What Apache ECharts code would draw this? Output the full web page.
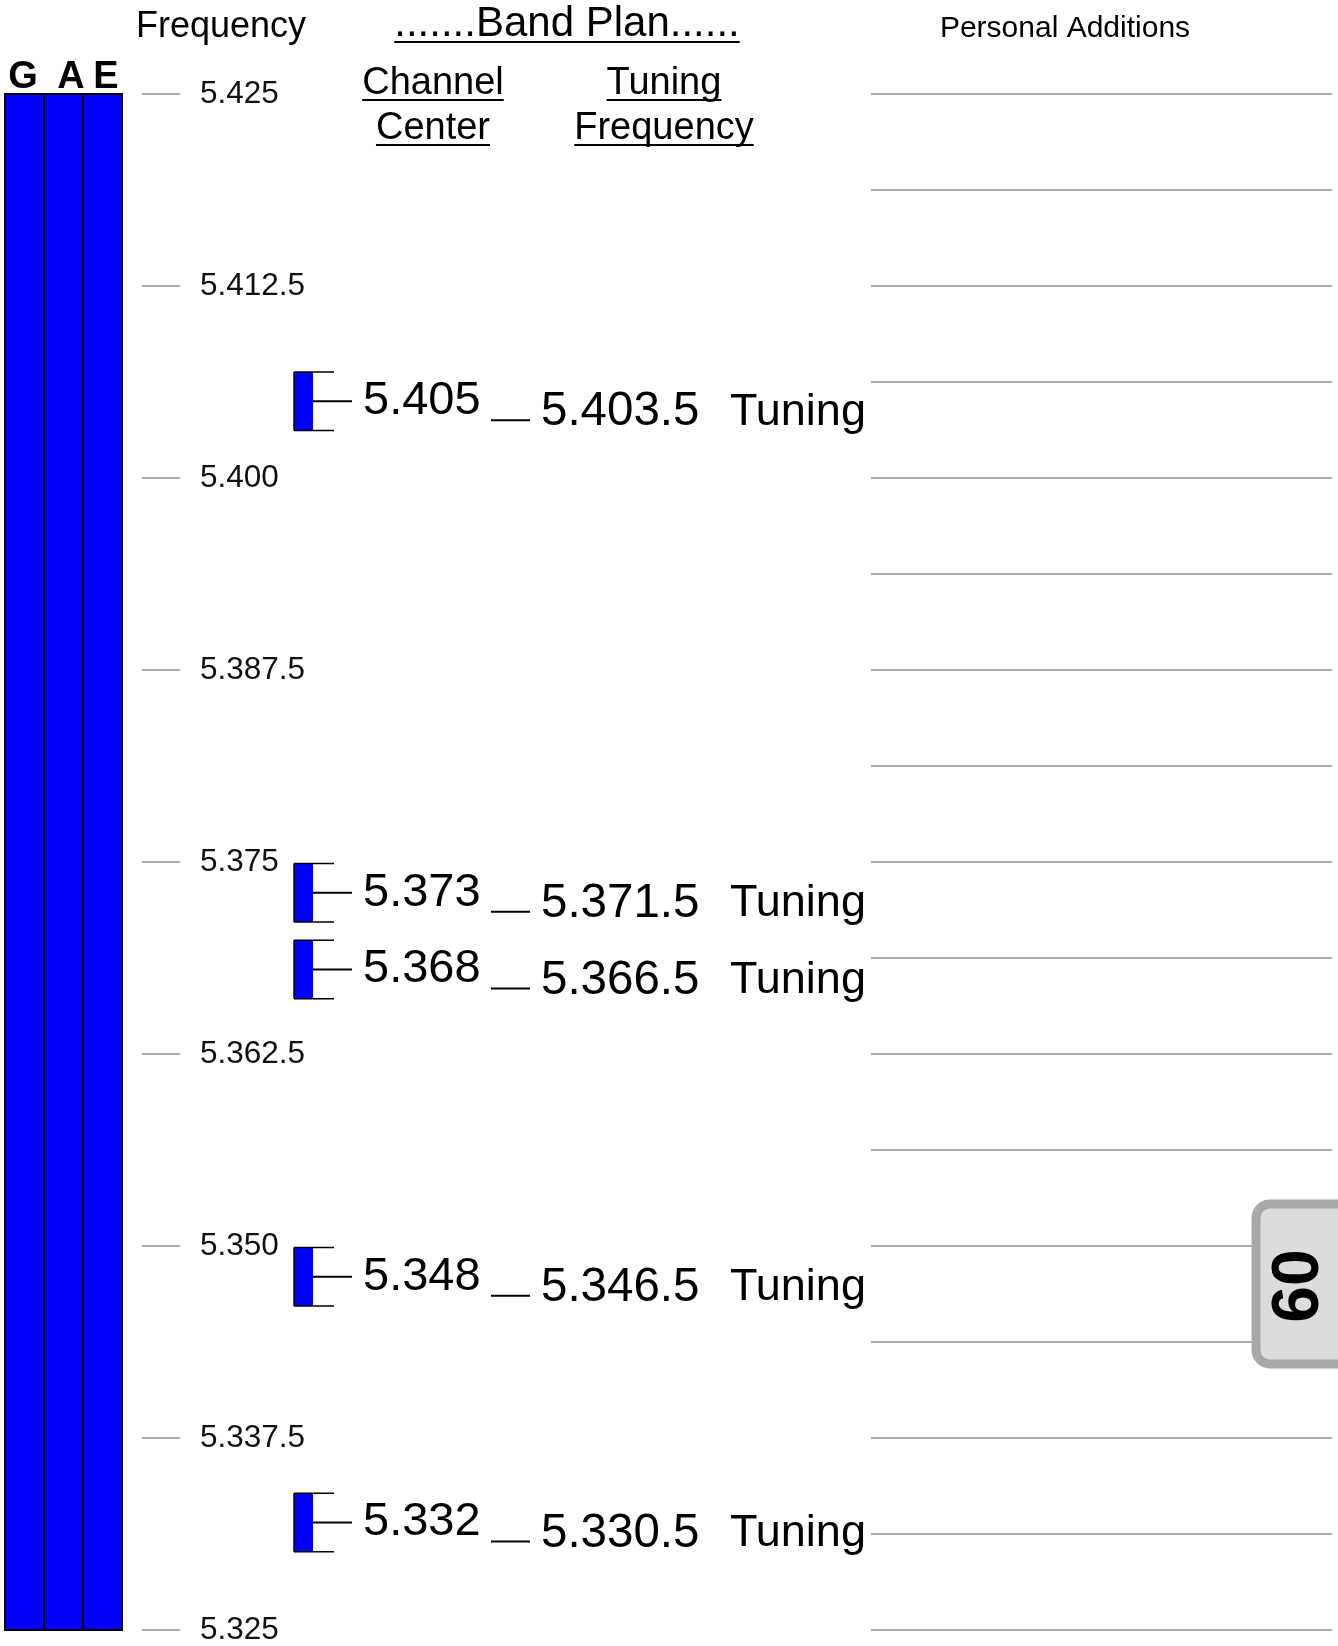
<!DOCTYPE html>
<html>
<head>
<meta charset="utf-8">
<script src="https://cdn.jsdelivr.net/npm/echarts@6/dist/echarts.min.js"></script>
<style>
html,body{margin:0;padding:0;background:#fff;}
#chart{width:1338px;height:1646px;}
</style>
</head>
<body>
<div id="chart"></div>
<script>
// ---- data ----
const axisMin = 5.325;
const axisMax = 5.425;
const tickStep = 0.0125;
const gridStep = 0.00625;
const tickLabels = ['5.425','5.412.5','5.400','5.387.5','5.375','5.362.5','5.350','5.337.5','5.325'];
const licenseClasses = ['G','A','E'];
const privilegeLow = [5.325, 5.325, 5.325];
const privilegeHigh = [5.425, 5.425, 5.425];
const channelCenters = [5.405, 5.373, 5.368, 5.348, 5.332];
const tuningFrequencies = [5.4035, 5.3715, 5.3665, 5.3465, 5.3305];
const channelWidth = 0.0038;
const tuningWord = 'Tuning';
const bandLabel = '60';
const headerLeft = 'Frequency';
const headerBand = '.......Band Plan......';
const headerCol1 = ['Channel','Center'];
const headerCol2 = ['Tuning','Frequency'];
const headerRight = 'Personal Additions';

// ---- helpers ----
const FF = '"Liberation Sans", Arial, sans-serif';
const mctx = document.createElement('canvas').getContext('2d');
function textW(t, size, weight){ mctx.font = (weight||'normal') + ' ' + size + 'px ' + FF; return mctx.measureText(t).width; }
function fmtTuning(f){ const s = f.toFixed(4); return s.slice(0,-1) + '.' + s.slice(-1); }

const chart = echarts.init(document.getElementById('chart'), null, {renderer:'canvas'});

const graphics = [];
function headerText(t, cx, baseline, size, underline){
  graphics.push({type:'text', z:100, style:{text:t, x:cx, y:baseline - 0.35*size, fill:'#000',
    font: size + 'px ' + FF, align:'center', verticalAlign:'middle'}});
  if (underline){
    const w = textW(t, size);
    graphics.push({type:'line', z:100, shape:{x1:cx-w/2, y1:baseline+3, x2:cx+w/2, y2:baseline+3},
      style:{stroke:'#000', lineWidth:2}});
  }
}
headerText(headerLeft, 221, 40, 36, false);
headerText(headerBand, 567, 39, 42, true);
headerText(headerCol1[0], 433, 97, 38, true);
headerText(headerCol1[1], 433, 142, 38, true);
headerText(headerCol2[0], 664, 97, 38, true);
headerText(headerCol2[1], 664, 142, 38, true);
headerText(headerRight, 1065, 39, 30, false);

// band tab
graphics.push({type:'rect', z:120, shape:{x:1256, y:1204, width:100, height:160, r:14},
  style:{fill:'#dcdcdc', stroke:'#a8a8a8', lineWidth:9}});
graphics.push({type:'text', z:121, x:1300, y:1286, rotation:Math.PI/2,
  style:{text:bandLabel, x:0, y:0, fill:'#000', font:'bold 66px ' + FF, align:'center', verticalAlign:'middle'}});

const option = {
  animation:false,
  backgroundColor:'#fff',
  grid:[
    {left:180, top:94, bottom:16, width:600, containLabel:false},
    {left:871, right:6, top:94, bottom:16, containLabel:false}
  ],
  xAxis:[
    {gridIndex:0, type:'value', min:0, max:1, show:false},
    {gridIndex:1, type:'value', min:0, max:1, show:false}
  ],
  yAxis:[
    {gridIndex:0, type:'value', min:axisMin, max:axisMax, interval:tickStep,
     axisLine:{show:false},
     axisTick:{show:true, length:38, lineStyle:{color:'#aaaaaa', width:2}},
     splitLine:{show:false},
     axisLabel:{show:true, align:'left', margin:-20, color:'#111', fontSize:31.5, fontFamily:FF,
       showMinLabel:true, showMaxLabel:true,
       formatter:function(v){ const i = Math.round((axisMax - v)/tickStep); return tickLabels[i] || ''; }}
    },
    {gridIndex:1, type:'value', min:axisMin, max:axisMax, interval:gridStep,
     axisLine:{show:false}, axisTick:{show:false}, axisLabel:{show:false},
     splitLine:{show:true, showMinLine:true, showMaxLine:true, lineStyle:{color:'#aaaaaa', width:2}}
    }
  ],
  series:[
    {
      type:'custom', name:'privileges', xAxisIndex:0, yAxisIndex:0, clip:false,
      data: licenseClasses.map((c,i)=>[0, privilegeLow[i], privilegeHigh[i], i]),
      encode:{x:0, y:[1,2]},
      renderItem:function(params, api){
        const i = api.value(3);
        const colX = [5, 44, 83];
        const colW = 39;
        const labelX = [23, 71, 106];
        const yTop = api.coord([0, api.value(2)])[1];
        const yBot = api.coord([0, api.value(1)])[1];
        return {type:'group', children:[
          {type:'rect', shape:{x:colX[i], y:yTop, width:colW, height:yBot-yTop},
           style:{fill:'#0000ff', stroke:'#000', lineWidth:2}},
          {type:'text', style:{text:licenseClasses[i], x:labelX[i], y:yTop-16, fill:'#000',
            font:'bold 38px ' + FF, align:'center', verticalAlign:'middle'}}
        ]};
      }
    },
    {
      type:'custom', name:'channels', xAxisIndex:0, yAxisIndex:0, clip:false,
      data: channelCenters.map((c,i)=>[0, c, tuningFrequencies[i]]),
      encode:{x:0, y:1},
      renderItem:function(params, api){
        const c = api.value(1), t = api.value(2);
        const yc = api.coord([0, c])[1];
        const yT = api.coord([0, c + channelWidth/2])[1];
        const yB = api.coord([0, c - channelWidth/2])[1];
        const yt = api.coord([0, t])[1];
        const ls = {stroke:'#000', lineWidth:1.5};
        return {type:'group', children:[
          {type:'rect', shape:{x:294, y:yT, width:19, height:yB-yT}, style:{fill:'#0000ff'}},
          {type:'line', shape:{x1:294, y1:yT, x2:294, y2:yB}, style:ls},
          {type:'line', shape:{x1:294, y1:yT, x2:334, y2:yT}, style:ls},
          {type:'line', shape:{x1:294, y1:yB, x2:334, y2:yB}, style:ls},
          {type:'line', shape:{x1:313, y1:yc, x2:352, y2:yc}, style:{stroke:'#000', lineWidth:2}},
          {type:'text', style:{text:c.toFixed(3), x:363, y:yc, fill:'#000', font:'47px ' + FF,
            align:'left', verticalAlign:'middle'}},
          {type:'line', shape:{x1:491, y1:yt-4, x2:530, y2:yt-4}, style:{stroke:'#000', lineWidth:2}},
          {type:'text', style:{text:fmtTuning(t), x:541, y:yt-12, fill:'#000', font:'47.5px ' + FF,
            align:'left', verticalAlign:'middle'}},
          {type:'text', style:{text:tuningWord, x:730, y:yt-12, fill:'#000', font:'45px ' + FF,
            align:'left', verticalAlign:'middle'}}
        ]};
      }
    }
  ],
  graphic: graphics
};
chart.setOption(option);
</script>
</body>
</html>
